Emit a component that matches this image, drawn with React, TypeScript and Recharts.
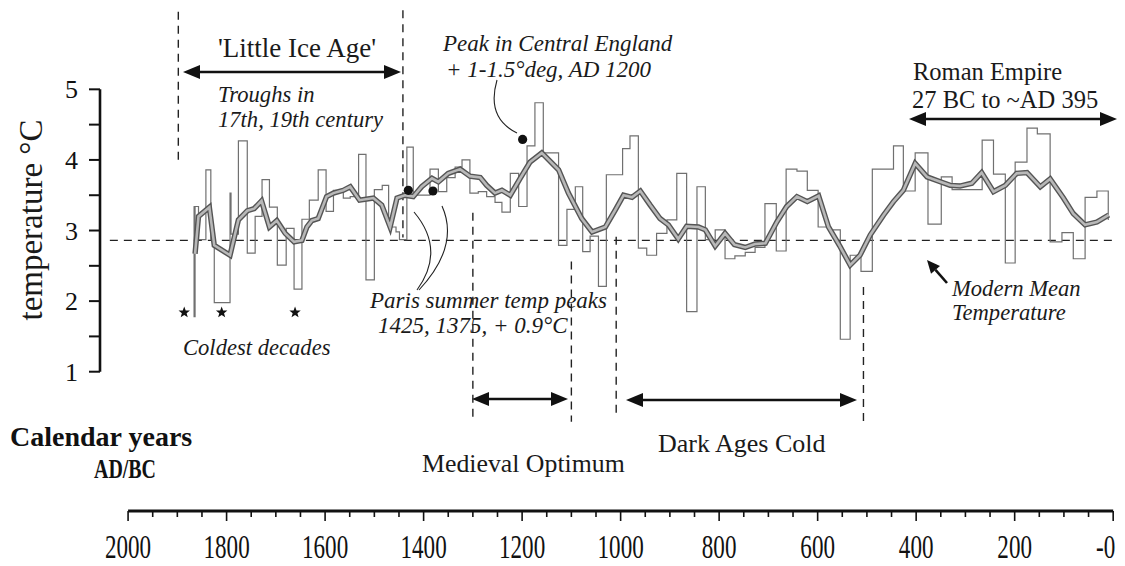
import React from "react";
import { ComposedChart, Line, Scatter, XAxis, YAxis, ReferenceLine } from "recharts";

const SERIF = '"Liberation Serif", "Times New Roman", "DejaVu Serif", serif';

// ---- Data ----
// Decadal step record: year where each step starts (left -> right on the reversed axis) and its temperature
const STEP_YEARS = [
  1867, 1866, 1864, 1857, 1842, 1832, 1825, 1793, 1791, 1776, 1758, 1742, 1728, 1713, 1697, 1679, 1663, 1647,
  1632, 1614, 1598, 1583, 1563, 1549, 1532, 1517, 1500, 1484, 1471, 1456, 1449, 1434, 1421, 1387, 1370, 1353,
  1336, 1322, 1306, 1289, 1272, 1255, 1241, 1224, 1207, 1190, 1174, 1157, 1126, 1109, 1092, 1077, 1062, 1045,
  1029, 996, 981, 964, 947, 927, 906, 886, 866, 845, 828, 808, 788, 768, 747, 727, 707, 684, 664, 642, 621, 599,
  577, 554, 534, 512, 489, 446, 426, 402, 376, 349, 327, 266, 243, 219, 199, 175, 154, 128, 104, 81, 57, 33, 10,
];
const STEP_TEMPS = [
  3.34, 1.78, 3.34, 2.87, 3.86, 2.87, 1.98, 3.53, 2.95, 4.27, 2.68, 3.2, 3.72, 3.33, 2.51, 3.03, 2.17, 3.16,
  3.43, 3.86, 3.27, 3.57, 3.46, 3.48, 4.08, 2.3, 3.58, 3.64, 3.05, 2.98, 2.87, 4.18, 3.5, 3.87, 3.55, 3.75,
  3.9, 4.0, 3.53, 3.55, 3.48, 3.4, 3.26, 3.81, 3.34, 4.2, 4.81, 4.1, 2.79, 3.3, 3.62, 2.7, 2.92, 2.21,
  3.79, 4.16, 4.34, 2.75, 2.65, 2.96, 3.15, 3.81, 1.85, 3.62, 2.87, 3.01, 2.6, 2.64, 2.69, 2.76, 3.38, 2.71, 3.87, 3.84, 3.57, 3.05,
  3.01, 1.46, 2.65, 2.42, 3.87, 4.2, 3.56, 4.1, 3.09, 3.76, 3.58, 4.28, 3.8, 2.54, 3.97, 4.45, 4.37, 2.84, 2.97, 2.6, 3.47, 3.56, 3.15,
];

// Smoothed curve
const SMOOTH_YEARS = [
  1864, 1857, 1835, 1825, 1793, 1776, 1758, 1744, 1729, 1713, 1698, 1681, 1663, 1647, 1637, 1627, 1614, 1597,
  1583, 1563, 1549, 1530, 1502, 1485, 1468, 1454, 1438, 1421, 1404, 1383, 1370, 1350, 1326, 1306, 1285, 1272,
  1255, 1241, 1224, 1204, 1184, 1160, 1126, 1106, 1079, 1058, 1031, 1011, 994, 977, 960, 940, 920, 903, 883,
  866, 842, 828, 808, 788, 769, 747, 727, 706, 683, 663, 642, 621, 598, 578, 555, 534, 514, 493, 466, 446, 426,
  402, 378, 351, 331, 311, 287, 267, 243, 219, 196, 175, 148, 128, 101, 81, 57, 33, 9,
];
const SMOOTH_TEMPS = [
  2.67, 3.2, 3.33, 2.79, 2.65, 3.15, 3.28, 3.31, 3.42, 3.05, 3.14, 2.96, 2.84, 2.86, 3.05, 3.14, 3.17, 3.48,
  3.53, 3.57, 3.62, 3.43, 3.46, 3.36, 3.05, 3.46, 3.5, 3.48, 3.62, 3.74, 3.69, 3.81, 3.87, 3.77, 3.75, 3.64,
  3.53, 3.57, 3.5, 3.74, 3.97, 4.1, 3.86, 3.53, 3.17, 2.98, 3.05, 3.29, 3.5, 3.47, 3.56, 3.36, 3.17, 3.08, 2.88,
  3.06, 3.05, 3.01, 2.78, 2.96, 2.8, 2.76, 2.81, 2.82, 3.12, 3.34, 3.48, 3.41, 3.49, 3.05, 2.78, 2.51, 2.65, 2.94, 3.22, 3.41, 3.57,
  3.95, 3.76, 3.69, 3.64, 3.63, 3.67, 3.82, 3.55, 3.64, 3.81, 3.82, 3.62, 3.73, 3.46, 3.24, 3.08, 3.12, 3.22,
];

// Paris peaks (1425, 1375) and Central England peak (1200)
const PEAK_YEARS = [1431, 1381, 1199];
const PEAK_TEMPS = [3.57, 3.56, 4.29];
// Coldest decades
const COLD_YEARS = [1886, 1810, 1661];
const COLD_TEMPS = [1.84, 1.84, 1.84];

const MODERN_MEAN = 2.86;
// Period boundaries
const LIA_BOUNDS = [1898, 1442];
const MEDIEVAL_BOUNDS = [1300, 1100];
const DARK_BOUNDS = [1009, 507];

const X_LABEL_YEARS = [2000, 1800, 1600, 1400, 1200, 1000, 800, 600, 400, 200, 0];
const Y_TICK_VALUES = [1, 1.5, 2, 2.5, 3, 3.5, 4, 4.5, 5];

// ---- derived tables ----
const stepData = STEP_YEARS.map((year, i) => ({ year, t: STEP_TEMPS[i] }));
const smoothData = SMOOTH_YEARS.map((year, i) => ({ year, t: SMOOTH_TEMPS[i] }));
const peakData = PEAK_YEARS.map((year, i) => ({ year, t: PEAK_TEMPS[i] }));
const coldData = COLD_YEARS.map((year, i) => ({ year, t: COLD_TEMPS[i] }));
const X_TICKS = Array.from({ length: 41 }, (_, i) => i * 50);

const X_DOMAIN: [number, number] = [-24, 2057];
const Y_DOMAIN: [number, number] = [-0.973, 6.152];

const XTick = (props: any) => {
  const { x, y, payload } = props;
  const v = payload.value as number;
  const major = X_LABEL_YEARS.includes(v);
  const isZero = v === 0;
  return (
    <g>
      <line x1={x} y1={y} x2={x} y2={y + (major ? 10 : 6)} stroke="#111" strokeWidth={1.6} />
      {major && (
        <text
          transform={`translate(${isZero ? x + 2 : x},${y + 47}) scale(0.7,1)`}
          textAnchor={isZero ? "end" : "middle"}
          fontSize={33}
          style={{ fontFamily: SERIF }}
          fill="#111"
        >
          {isZero ? "-0" : String(v)}
        </text>
      )}
    </g>
  );
};

const YTick = (props: any) => {
  const { x, y, payload } = props;
  const v = payload.value as number;
  const isInt = Number.isInteger(v);
  return (
    <g>
      <line x1={x - 11} y1={y} x2={x} y2={y} stroke="#111" strokeWidth={2} />
      {isInt && (
        <text x={x - 22} y={y} dy="0.35em" textAnchor="end" fontSize={26} style={{ fontFamily: SERIF }} fill="#111">
          {String(v)}
        </text>
      )}
    </g>
  );
};

const Dot = (props: any) => <circle cx={props.cx} cy={props.cy} r={4.6} fill="#111" />;
const Star = (props: any) => {
  const { cx, cy } = props;
  const R = 6;
  const r = 2.5;
  const pts: string[] = [];
  for (let i = 0; i < 10; i++) {
    const a = -Math.PI / 2 + (i * Math.PI) / 5;
    const rr = i % 2 === 0 ? R : r;
    pts.push(`${cx + rr * Math.cos(a)},${cy + rr * Math.sin(a)}`);
  }
  return <polygon points={pts.join(" ")} fill="#111" />;
};

const DASH = "8 6";

const HArrow = ({ x1, x2, y }: { x1: number; x2: number; y: number }) => (
  <g>
    <line x1={x1 + 8} y1={y} x2={x2 - 8} y2={y} stroke="#111" strokeWidth={2.6} />
    <polygon points={`${x1},${y} ${x1 + 17},${y - 7} ${x1 + 17},${y + 7}`} fill="#111" />
    <polygon points={`${x2},${y} ${x2 - 17},${y - 7} ${x2 - 17},${y + 7}`} fill="#111" />
  </g>
);

export default function App() {
  const italic = { style: { fontFamily: SERIF }, fontStyle: "italic" as const, fontSize: 22.6, fill: "#1a1a1a" };
  const regular = { style: { fontFamily: SERIF }, fontSize: 25.5, fill: "#1a1a1a" };
  return (
    <div style={{ position: "relative", width: 1117, height: 550, background: "#fff", fontFamily: SERIF }}>
      <style>{".recharts-surface{overflow:visible}"}</style>
      <ComposedChart width={1117} height={550} margin={{ top: 0, right: 0, bottom: 2, left: 32 }}>
        <XAxis
          type="number"
          dataKey="year"
          domain={X_DOMAIN}
          reversed
          allowDataOverflow
          ticks={X_TICKS}
          interval={0}
          tick={(p: any) => <XTick {...p} />}
          tickLine={false}
          axisLine={false}
          tickSize={0}
          tickMargin={0}
          height={45}
        />
        <YAxis
          type="number"
          dataKey="t"
          domain={Y_DOMAIN}
          allowDataOverflow
          ticks={Y_TICK_VALUES}
          interval={0}
          tick={(p: any) => <YTick {...p} />}
          tickLine={false}
          axisLine={false}
          tickSize={0}
          tickMargin={0}
          width={60}
        />
        {/* axis lines */}
        <ReferenceLine
          segment={[{ x: X_DOMAIN[1], y: 1 }, { x: X_DOMAIN[1], y: 5 }]}
          stroke="#111"
          strokeWidth={2.6}
          ifOverflow="visible"
        />
        <ReferenceLine
          segment={[{ x: 2000, y: Y_DOMAIN[0] }, { x: 0, y: Y_DOMAIN[0] }]}
          stroke="#111"
          strokeWidth={3}
          ifOverflow="visible"
        />
        {/* modern mean */}
        <ReferenceLine
          segment={[{ x: 2037, y: MODERN_MEAN }, { x: X_DOMAIN[0], y: MODERN_MEAN }]}
          stroke="#222"
          strokeWidth={1.4}
          strokeDasharray={DASH}
          ifOverflow="visible"
        />
        {/* period boundaries */}
        <ReferenceLine segment={[{ x: LIA_BOUNDS[0], y: 6.1 }, { x: LIA_BOUNDS[0], y: 4.0 }]} stroke="#222" strokeWidth={1.4} strokeDasharray={DASH} ifOverflow="visible" />
        <ReferenceLine segment={[{ x: LIA_BOUNDS[1], y: 6.12 }, { x: LIA_BOUNDS[1], y: 2.9 }]} stroke="#222" strokeWidth={1.4} strokeDasharray={DASH} ifOverflow="visible" />
        <ReferenceLine segment={[{ x: MEDIEVAL_BOUNDS[0], y: 3.25 }, { x: MEDIEVAL_BOUNDS[0], y: 0.29 }]} stroke="#222" strokeWidth={1.4} strokeDasharray={DASH} ifOverflow="visible" />
        <ReferenceLine segment={[{ x: MEDIEVAL_BOUNDS[1], y: 2.56 }, { x: MEDIEVAL_BOUNDS[1], y: 0.29 }]} stroke="#222" strokeWidth={1.4} strokeDasharray={DASH} ifOverflow="visible" />
        <ReferenceLine segment={[{ x: DARK_BOUNDS[0], y: 2.91 }, { x: DARK_BOUNDS[0], y: 0.36 }]} stroke="#222" strokeWidth={1.4} strokeDasharray={DASH} ifOverflow="visible" />
        <ReferenceLine segment={[{ x: DARK_BOUNDS[1], y: 2.2 }, { x: DARK_BOUNDS[1], y: 0.25 }]} stroke="#222" strokeWidth={1.4} strokeDasharray={DASH} ifOverflow="visible" />

        <Line
          data={stepData}
          dataKey="t"
          type="stepAfter"
          stroke="#707070"
          strokeWidth={1.2}
          dot={false}
          activeDot={false}
          isAnimationActive={false}
        />
        <Line
          data={smoothData}
          dataKey="t"
          type="linear"
          stroke="#555555"
          strokeWidth={5.4}
          dot={false}
          activeDot={false}
          isAnimationActive={false}
        />
        <Line
          data={smoothData}
          dataKey="t"
          type="linear"
          stroke="#b8b8b8"
          strokeWidth={2.6}
          dot={false}
          activeDot={false}
          isAnimationActive={false}
        />
        <Scatter data={peakData} dataKey="t" shape={Dot} isAnimationActive={false} />
        <Scatter data={coldData} dataKey="t" shape={Star} isAnimationActive={false} />
      </ComposedChart>

      <svg
        width={1125}
        height={566}
        style={{ position: "absolute", left: -8, top: -8, pointerEvents: "none", overflow: "visible" }}
      >
        {/* Y axis title */}
        <text
          x={0}
          y={0}
          transform="translate(42,220) rotate(-90)"
          textAnchor="middle"
          style={{ fontFamily: SERIF }}
          fontSize={33}
          fill="#1a1a1a"
        >
          temperature °C
        </text>

        {/* Little Ice Age */}
        <text x={297} y={57} textAnchor="middle" {...regular} fontSize={27}>
          'Little Ice Age'
        </text>
        <HArrow x1={183} x2={401} y={72} />
        <text x={218} y={102} {...italic}>Troughs in</text>
        <text x={218} y={127} {...italic}>17th, 19th century</text>

        {/* Central England peak */}
        <text x={443} y={51} {...italic} fontSize={23}>Peak in Central England</text>
        <text x={446} y={77} {...italic} fontSize={23}>+ 1-1.5°deg, AD 1200</text>
        <path d="M 497 80 Q 486 118 517 133" fill="none" stroke="#222" strokeWidth={1.1} />

        {/* Roman Empire */}
        <text x={913} y={80} {...regular} fontSize={24.5}>Roman Empire</text>
        <text x={912} y={108} {...regular} fontSize={24.5}>27 BC to ~AD 395</text>
        <HArrow x1={909} x2={1117} y={119} />

        {/* Paris */}
        <path d="M 414 212 Q 446 250 417 290" fill="none" stroke="#222" strokeWidth={1.1} />
        <path d="M 442 206 Q 460 246 419 290" fill="none" stroke="#222" strokeWidth={1.1} />
        <text x={370} y={308} {...italic} fontSize={23}>Paris summer temp peaks</text>
        <text x={378} y={333} {...italic} fontSize={23}>1425, 1375, + 0.9°C</text>

        <text x={183} y={355} {...italic}>Coldest decades</text>

        {/* Modern mean */}
        <line x1={947} y1={283} x2={935.5} y2={269.8} stroke="#111" strokeWidth={2.6} />
        <polygon points="927,260 940,265.9 931,273.7" fill="#111" />
        <text x={952} y={296} {...italic}>Modern Mean</text>
        <text x={952} y={320} {...italic}>Temperature</text>

        {/* periods below */}
        <HArrow x1={472} x2={568} y={399} />
        <HArrow x1={626} x2={857} y={400} />
        <text x={422} y={472} {...regular} fontSize={25.8}>Medieval Optimum</text>
        <text x={658} y={452} {...regular} fontSize={26}>Dark Ages Cold</text>

        <text x={10} y={446} style={{ fontFamily: SERIF }} fontWeight="bold" fontSize={28} fill="#111">
          Calendar years
        </text>
        <text
          x={94}
          y={478}
          style={{ fontFamily: SERIF }}
          fontWeight="bold"
          fontSize={28}
          textLength={62}
          lengthAdjust="spacingAndGlyphs"
          fill="#111"
        >
          AD/BC
        </text>
      </svg>
    </div>
  );
}
